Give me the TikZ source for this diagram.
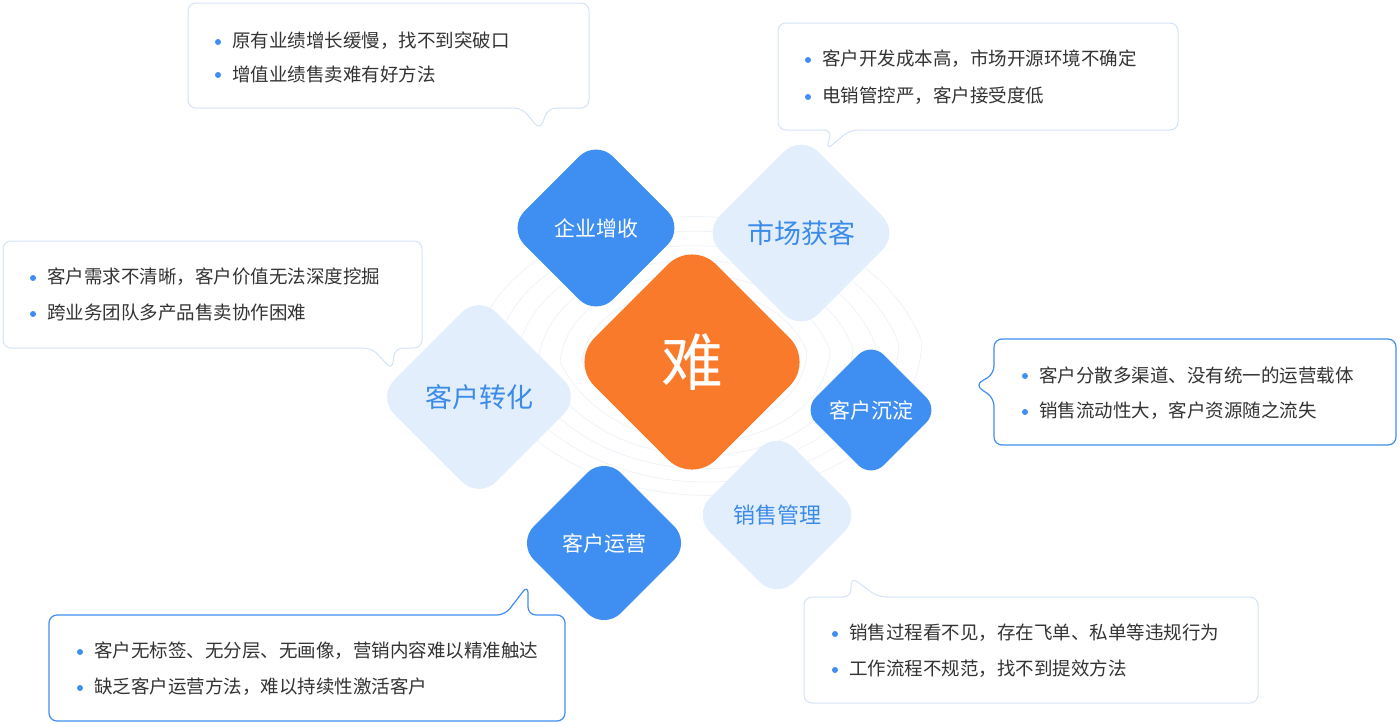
\documentclass[tikz,border=0pt]{standalone}
\usepackage{fontspec}
\setmainfont{Noto Sans CJK SC}
\definecolor{solidb}{HTML}{3F8EF2}
\definecolor{lightb}{HTML}{E2EEFC}
\definecolor{lighttx}{HTML}{3B8BE8}
\definecolor{orng}{HTML}{FA7A2C}
\definecolor{cfill}{HTML}{F5F9FE}
\definecolor{cline}{HTML}{D3E3F5}
\definecolor{txt}{HTML}{333333}
\definecolor{contour}{HTML}{EEF3F8}
\tikzset{
 dia/.style={rotate=45,minimum width=#1,minimum height=#1,rounded corners=24pt,inner sep=0pt},
 solidd/.style={fill=solidb,text=white},
 lightd/.style={fill=lightb,text=lighttx},
 soft/.style={cfill,draw=cline,line width=1pt},
 hard/.style={fill=white,draw=solidb,line width=1.2pt},
 btxt/.style={anchor=west,text=txt,font=\fontsize{18.5}{22}\selectfont,inner sep=0pt},
 bul/.style={circle,fill=solidb,inner sep=0pt,minimum size=6pt},
}
\begin{document}
\begin{tikzpicture}[x=1pt,y=-1pt]
\useasboundingbox (0,0) rectangle (1400,723);
% contours
\foreach \r in {100,120,140,160,180,200}{
 \draw[contour,line width=0.8pt] (692-\r*1.1,362) .. controls (692-\r,362-\r*0.9) and (692+\r*0.8,362-\r) .. (692+\r*1.15,362-\r*0.1) .. controls (692+\r*1.1,362+\r*0.8) and (692-\r*0.6,362+\r) .. (692-\r*1.1,362);
}
% callouts
\draw[soft,rounded corners=8pt] (188,3) -- (589,3) -- (589,108) -- (548,108) -- (540,130) -- (522,108) -- (188,108) -- cycle;
\draw[soft,rounded corners=8pt] (778,23) -- (1178,23) -- (1178,130) -- (850,130) -- (826,150) -- (832,130) -- (778,130) -- cycle;
\draw[soft,rounded corners=8pt] (3,241) -- (422,241) -- (422,348) -- (395,348) -- (392,370) -- (372,348) -- (3,348) -- cycle;
\draw[hard,rounded corners=8pt] (994,339) -- (1396,339) -- (1396,445) -- (994,445) -- (994,398) -- (975,385) -- (994,374) -- cycle;
\draw[soft,rounded corners=8pt] (804,597) -- (851,597) -- (851,577) -- (878,597) -- (1258,597) -- (1258,703) -- (804,703) -- cycle;
\draw[hard,rounded corners=8pt] (49,615) -- (505,615) -- (528,585) -- (528,615) -- (565,615) -- (565,721) -- (49,721) -- cycle;
% texts
\foreach \x/\y/\t [count=\i] in {
 218/42/原有业绩增长缓慢，找不到突破口,
 218/75/增值业绩售卖难有好方法,
 808/60/客户开发成本高，市场开源环境不确定,
 808/97/电销管控严，客户接受度低,
 33/278/客户需求不清晰，客户价值无法深度挖掘,
 33/314/跨业务团队多产品售卖协作困难,
 1025/376/客户分散多渠道、没有统一的运营载体,
 1025/412/销售流动性大，客户资源随之流失,
 835/634/销售过程看不见，存在飞单、私单等违规行为,
 835/670/工作流程不规范，找不到提效方法,
 80/652/客户无标签、无分层、无画像，营销内容难以精准触达,
 80/688/缺乏客户运营方法，难以持续性激活客户}{
 \node[bul] (b\i) at (\x,\y) {};
 \node[btxt] (t\i) at (\x+14,\y-1) {\t};
}
% diamonds
\node[dia=172,fill=orng,rounded corners=34pt,text=white] (nan) at (692,362) {\rotatebox{-45}{\fontsize{62}{66}\selectfont 难}};
\node[dia=125,solidd] (d1) at (596,228) {\rotatebox{-45}{\fontsize{21}{24}\selectfont 企业增收}};
\node[dia=139,lightd] (d2) at (801,233) {\rotatebox{-45}{\fontsize{27}{30}\selectfont 市场获客}};
\node[dia=144,lightd] (d3) at (479,397) {\rotatebox{-45}{\fontsize{27}{30}\selectfont 客户转化}};
\node[dia=96,solidd,rounded corners=18pt] (d4) at (871,410) {\rotatebox{-45}{\fontsize{21}{24}\selectfont 客户沉淀}};
\node[dia=119,lightd] (d5) at (777,515) {\rotatebox{-45}{\fontsize{22}{26}\selectfont 销售管理}};
\node[dia=123,solidd] (d6) at (604,543) {\rotatebox{-45}{\fontsize{21}{24}\selectfont 客户运营}};
\end{tikzpicture}
\end{document}
